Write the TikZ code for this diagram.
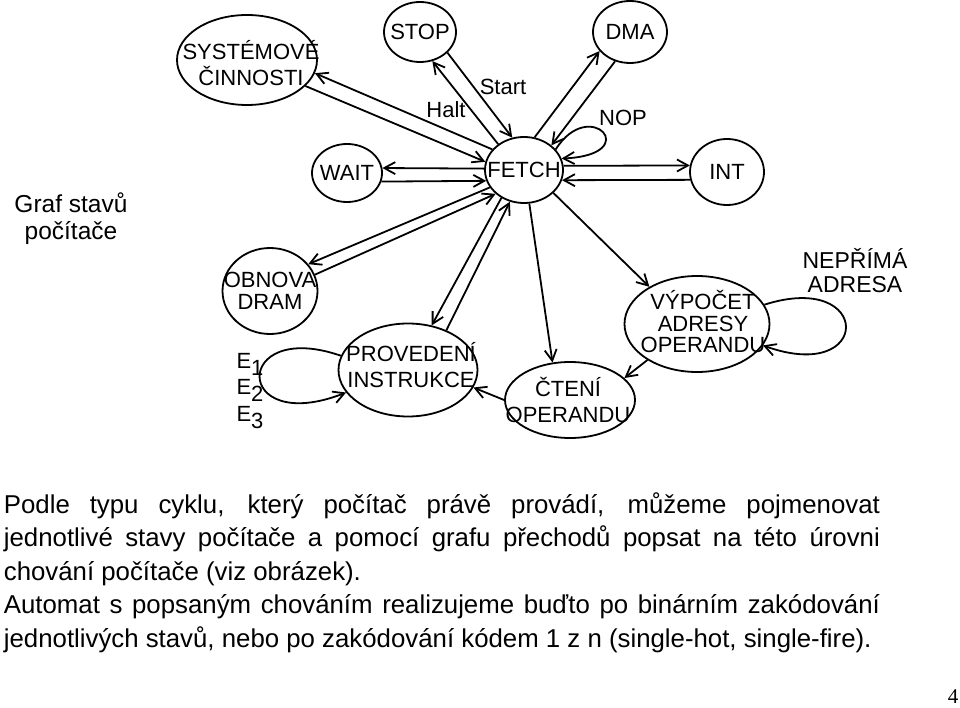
\documentclass[tikz,border=0pt]{standalone}
\usepackage{fontspec}
\setmainfont{Liberation Sans}
\newfontfamily\pagefont{Liberation Serif}
\usetikzlibrary{arrows.meta,shapes.geometric}

\begin{document}
\begin{tikzpicture}[x=1pt,y=-1pt,line width=1.8pt,
 st/.style={ellipse,draw,inner sep=0pt},
 every label/.style={font=\fontsize{22}{26}\selectfont,align=center,inner sep=0pt},
 tag/.style={font=\fontsize{22}{26}\selectfont,align=center,inner sep=0pt},
 body/.style={font=\fontsize{25.8}{33.5}\selectfont,text width=876pt,align=justify,inner sep=0pt,anchor=base west},
 arr/.style={-{Straight Barb[length=11pt,width=12pt]}}]
\useasboundingbox (0,0) rectangle (960,708);
\node[st,minimum width=140pt,minimum height=90pt,label={[xshift=4pt,yshift=-3.5pt]center:SYSTÉMOVÉ\\ČINNOSTI}] (sys) at (247,60) {};
\node[st,minimum width=72pt,minimum height=60pt,label=center:STOP] (stop) at (420,32) {};
\node[st,minimum width=74pt,minimum height=62pt,label=center:DMA] (dma) at (630,32) {};
\node[st,minimum width=70pt,minimum height=58pt,label=center:WAIT] (wait) at (347,173) {};
\node[st,minimum width=78pt,minimum height=66pt,label=center:FETCH] (fetch) at (524,170) {};
\node[st,minimum width=74pt,minimum height=66pt,label=center:INT] (int) at (727,172) {};
\node[st,minimum width=95pt,minimum height=86pt,label={[font=\fontsize{22}{21.5}\selectfont]center:OBNOVA\\DRAM}] (obnova) at (270,291) {};
\node[st,minimum width=139pt,minimum height=93pt,label={[xshift=3pt,yshift=5pt]center:PROVEDENÍ\\INSTRUKCE}] (prov) at (408,370) {};
\node[st,minimum width=130pt,minimum height=76pt,label={[xshift=-2pt]center:ČTENÍ\\OPERANDU}] (cteni) at (570,400) {};
\node[st,minimum width=145pt,minimum height=96pt,label={[xshift=6pt,yshift=2.5pt,font=\fontsize{22}{21.5}\selectfont]center:VÝPOČET\\ADRESY\\OPERANDU}] (vyp) at (697,324) {};
\node[tag,font=\fontsize{24.5}{27}\selectfont] (title) at (71,219) {Graf stavů\\počítače};
\node[tag] (halt) at (446,110) {Halt};
\node[tag] (start) at (503,87) {Start};
\node[tag] (nop) at (623,118) {NOP};
\node[tag,font=\fontsize{23}{24}\selectfont] (nepr) at (855,271) {NEPŘÍMÁ\\ADRESA};
\node[tag,align=left,font=\fontsize{22}{26.5}\selectfont] (elab) at (250,387) {E\raisebox{-7pt}[0pt][0pt]{1}\\E\raisebox{-7pt}[0pt][0pt]{2}\\E\raisebox{-7pt}[0pt][0pt]{3}};
\draw[arr] (fetch.147) -- (sys.-11);
\draw[arr] (sys.-24) -- (fetch.168);
\draw[arr] (fetch.135) -- (stop.-67);
\draw[arr] (stop.-37) -- (fetch.110);
\draw[arr] (fetch.72) -- (dma.212);
\draw[arr] (dma.243) -- (fetch.42);
\draw[arr] (fetch.33) .. controls (590,95) and (645,155) .. (fetch.17);
\draw[arr] (fetch.178) -- (wait.8);
\draw[arr] (wait.-14) -- (fetch.196);
\draw[arr] (fetch.6) -- (int.170);
\draw[arr] (int.192) -- (fetch.-15);
\draw[arr] (fetch.207) -- (obnova.35);
\draw[arr] (obnova.20) -- (fetch.220);
\draw[arr] (fetch.231) -- (prov.62);
\draw[arr] (prov.46) -- (fetch.246);
\draw[arr] (fetch.-81) -- (cteni.115);
\draw[arr] (fetch.-38) -- (vyp.142);
\draw[arr] (vyp.216) -- (cteni.22);
\draw[arr] (cteni.180) -- (prov.-15);
\draw[arr] (prov.168) .. controls (232,318) and (232,437) .. (prov.200);
\draw[arr] (vyp.16) .. controls (873,270) and (873,385) .. (vyp.-18);
\node[body] (text) at (3,513) {Podle typu cyklu, který počítač právě provádí, můžeme pojmenovat\linebreak jednotlivé stavy počítače a pomocí grafu přechodů popsat na této úrovni\linebreak chování počítače (viz obrázek).\par Automat s popsaným chováním realizujeme buďto po binárním zakódování\linebreak jednotlivých stavů, nebo po zakódování kódem 1 z n (single-hot, single-fire).};
\node[font=\pagefont\fontsize{21}{21}\selectfont,inner sep=0pt,anchor=base] (pagenum) at (953,703) {4};
\end{tikzpicture}
\end{document}
